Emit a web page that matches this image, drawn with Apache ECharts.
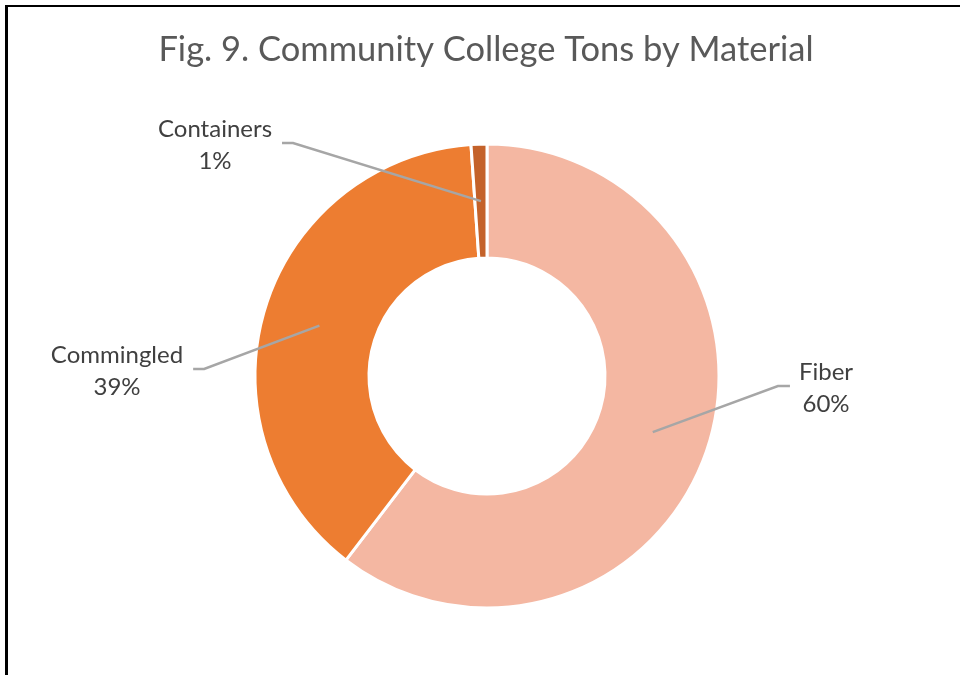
<!DOCTYPE html>
<html>
<head>
<meta charset="utf-8">
<script src="https://cdn.jsdelivr.net/npm/echarts@6/dist/echarts.min.js"></script>
<style>
html,body{margin:0;padding:0;background:#fff;}
#chart{width:960px;height:675px;}
</style>
</head>
<body>
<div id="chart"></div>
<script>
// ---- data ----
const titleText = 'Fig. 9. Community College Tons by Material';
const categories = ['Fiber', 'Commingled', 'Containers'];
const shares = [60.4, 38.5, 1.1];   // percent of tons
const colors = ['#F4B7A2', '#ED7D31', '#C4622A'];

// ---- layout (styling only) ----
const cx = 487, cy = 376, rOuter = 232, rInner = 118;
const labelAnchors = [ {x: 826, y: 388, side: 'right'},
                       {x: 117, y: 371, side: 'left'},
                       {x: 215, y: 145, side: 'left'} ];

const total = shares.reduce((a, b) => a + b, 0);
function midAngle(i) {
  let cum = 0;
  for (let k = 0; k < i; k++) cum += shares[k];
  return 2 * Math.PI * (cum + shares[i] / 2) / total;
}

const pieBase = {
  type: 'pie',
  center: [cx, cy],
  radius: [rInner, rOuter],
  startAngle: 90,
  clockwise: true,
  avoidLabelOverlap: false,
  emphasis: {disabled: true},
  silent: true
};

const chart = echarts.init(document.getElementById('chart'), null, {renderer: 'canvas'});
chart.setOption({
  animation: false,
  backgroundColor: '#ffffff',
  title: {
    text: titleText,
    left: 481, top: 27, textAlign: 'center',
    textStyle: {fontFamily: 'Lato', fontSize: 34.5, fontWeight: 'normal', color: '#595959'}
  },
  graphic: [
    {type: 'rect', shape: {x: 5, y: 5, width: 955, height: 2}, style: {fill: '#000'}, silent: true},
    {type: 'rect', shape: {x: 5, y: 5, width: 3, height: 670}, style: {fill: '#000'}, silent: true}
  ],
  series: [
    Object.assign({}, pieBase, {
      z: 2,
      itemStyle: {borderColor: '#ffffff', borderWidth: 3},
      label: {show: false},
      labelLine: {show: false},
      data: categories.map((c, i) => ({name: c, value: shares[i], itemStyle: {color: colors[i]}}))
    }),
    Object.assign({}, pieBase, {
      z: 5,
      itemStyle: {color: 'rgba(0,0,0,0)', borderWidth: 0},
      label: {
        show: true,
        position: 'outside',
        formatter: p => p.name + '\n' + Math.round(p.value * 100 / total) + '%',
        fontFamily: 'Lato', fontSize: 24, color: '#404040', lineHeight: 32, align: 'center'
      },
      labelLine: {show: true, showAbove: true, lineStyle: {color: '#A6A6A6', width: 2.5}, smooth: false},
      labelLayout: function (params) {
        const i = params.dataIndex;
        const a = labelAnchors[i];
        const w = params.labelRect.width;
        const th = midAngle(i);
        const rm = (rOuter + rInner) / 2;
        const p0 = [cx + rm * Math.sin(th), cy - rm * Math.cos(th)];
        let endX, bendX;
        if (a.side === 'right') { endX = a.x - w / 2 - 9; bendX = endX - 12; }
        else { endX = a.x + w / 2 + 10; bendX = endX + 11; }
        const ly = a.y - 2;
        return {
          x: a.x, y: a.y, align: 'center', verticalAlign: 'middle',
          labelLinePoints: [p0, [bendX, ly], [endX, ly]]
        };
      },
      data: categories.map((c, i) => ({name: c, value: shares[i]}))
    })
  ]
});
</script>
</body>
</html>
